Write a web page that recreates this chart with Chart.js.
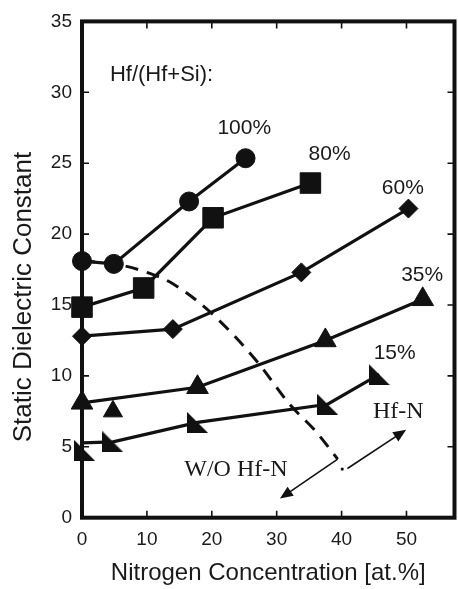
<!DOCTYPE html>
<html><head><meta charset="utf-8">
<script src="https://cdn.jsdelivr.net/npm/chart.js@4.4.0/dist/chart.umd.min.js"></script>
<style>
html,body{margin:0;padding:0;overflow:hidden;background:#fff;width:458px;height:589px}
canvas{display:block}
</style></head>
<body><canvas id="c" width="470" height="589"></canvas>
<script>
// ---- data ----
const xTicks=[0,10,20,30,40,50];
const yTicks=[0,5,10,15,20,25,30,35];
const xTitle="Nitrogen Concentration [at.%]";
const yTitle="Static Dielectric Constant";

const hf100X=[0,4.9,16.5,25.2];      const hf100Y=[18.1,17.9,22.3,25.35];
const hf80X=[0,9.5,20.2,35.2];       const hf80Y=[14.85,16.2,21.15,23.6];
const hf60X=[0,14.0,33.8,50.3];      const hf60Y=[12.8,13.3,17.3,21.8];
const hf35X=[0,17.8,37.5,52.5];      const hf35Y=[8.1,9.2,12.5,15.4];
const hf15X=[0,4.77,17.8,37.85,45.8];const hf15Y=[5.28,5.35,6.72,8.0,10.1];
const hf15StartX=[0.4];              const hf15StartY=[4.75];
const extraX=[4.77];                 const extraY=[7.5];
const woX=[0,5,10,14,20,27,32,36,39.4]; const woY=[18.1,17.9,17.3,16.5,14.4,11.0,8.0,6.1,4.13];

const noteTexts=["Hf/(Hf+Si):","100%","80%","60%","35%","15%","Hf-N","W/O Hf-N"];
const noteX=[4.3,25.0,38.15,49.44,52.42,48.18,48.74,23.72];
const noteY=[31.2,27.46,25.62,23.26,17.07,11.62,7.48,3.38];

const arrowFromX=[39.4,40.9]; const arrowFromY=[4.13,3.47];
const arrowToX=[30.5,49.95];  const arrowToY=[1.35,6.21];
const dotX=[40.1]; const dotY=[3.43];

const zip=(xs,ys)=>xs.map((v,i)=>({x:v,y:ys[i]}));
const INK='#111';

// right-triangle marker (◣) used for the 15% series
const wedge=document.createElement('canvas');
wedge.width=21;wedge.height=21;
(function(){const g=wedge.getContext('2d');g.fillStyle=INK;g.beginPath();g.moveTo(0,0);g.lineTo(0,21);g.lineTo(21,21);g.closePath();g.fill();})();

function series(xs,ys,style,r,extra){
  return Object.assign({data:zip(xs,ys),showLine:true,borderColor:INK,borderWidth:3.2,
    pointStyle:style,pointRadius:r,pointBackgroundColor:INK,pointBorderColor:INK,pointBorderWidth:1,clip:false},extra||{});
}

const datasets=[
  series(hf100X,hf100Y,'circle',9.5),
  series(hf80X,hf80Y,'rect',14.5),
  series(hf60X,hf60Y,'rectRot',9.5),
  series(hf35X,hf35Y,'triangle',12.5),
  series(hf15X,hf15Y,wedge,10,{pointRadius:[0,10,10,10,10]}),
  series(hf15StartX,hf15StartY,wedge,10,{showLine:false}),
  series(extraX,extraY,'triangle',11,{showLine:false}),
  {data:zip(woX,woY),showLine:true,borderColor:INK,borderWidth:3,borderDash:[13,9],pointRadius:0,
   cubicInterpolationMode:'monotone',clip:false}
];

const frame={id:'frame',beforeDatasetsDraw(chart){
  const {ctx,chartArea:a,scales:{x,y}}=chart;
  ctx.save();ctx.strokeStyle=INK;ctx.lineWidth=4;
  ctx.strokeRect(a.left,a.top,a.right-a.left,a.bottom-a.top);
  ctx.lineWidth=1.6;ctx.beginPath();
  for(const v of xTicks){const p=x.getPixelForValue(v);
    ctx.moveTo(p,a.bottom);ctx.lineTo(p,a.bottom-7);ctx.moveTo(p,a.top);ctx.lineTo(p,a.top+7);}
  for(const v of yTicks){const p=y.getPixelForValue(v);
    ctx.moveTo(a.left,p);ctx.lineTo(a.left+7,p);ctx.moveTo(a.right,p);ctx.lineTo(a.right-7,p);}
  ctx.stroke();
  // y title
  ctx.fillStyle='#1a1a1a';ctx.font='26px "Liberation Sans", Arial, sans-serif';
  ctx.textAlign='center';ctx.textBaseline='middle';
  ctx.translate(24,297);ctx.rotate(-Math.PI/2);ctx.fillText(yTitle,0,0);
  ctx.restore();
}};

function arrowHead(ctx,x0,y0,x1,y1,len,w){
  const ang=Math.atan2(y1-y0,x1-x0);
  ctx.beginPath();ctx.moveTo(x1,y1);
  ctx.lineTo(x1-len*Math.cos(ang)+w*Math.sin(ang),y1-len*Math.sin(ang)-w*Math.cos(ang));
  ctx.lineTo(x1-len*Math.cos(ang)-w*Math.sin(ang),y1-len*Math.sin(ang)+w*Math.cos(ang));
  ctx.closePath();ctx.fill();
}

const notes={id:'notes',afterDatasetsDraw(chart){
  const {ctx,scales:{x,y}}=chart;
  ctx.save();ctx.fillStyle='#1a1a1a';ctx.strokeStyle=INK;ctx.textBaseline='middle';
  noteTexts.forEach((t,i)=>{
    const serif=t.indexOf('Hf-N')>=0;
    ctx.font=serif?'24px "Liberation Serif", "Times New Roman", serif':(i===0?'22px "Liberation Sans", Arial, sans-serif':'21px "Liberation Sans", Arial, sans-serif');
    ctx.textAlign=i===0?'left':'center';
    ctx.fillText(t,x.getPixelForValue(noteX[i]),y.getPixelForValue(noteY[i]));
  });
  ctx.fillStyle=INK;ctx.lineWidth=1.6;
  for(let i=0;i<arrowFromX.length;i++){
    const x0=x.getPixelForValue(arrowFromX[i]),y0=y.getPixelForValue(arrowFromY[i]);
    const x1=x.getPixelForValue(arrowToX[i]),y1=y.getPixelForValue(arrowToY[i]);
    const ang=Math.atan2(y1-y0,x1-x0);
    ctx.beginPath();ctx.moveTo(x0,y0);ctx.lineTo(x1-8*Math.cos(ang),y1-8*Math.sin(ang));ctx.stroke();
    arrowHead(ctx,x0,y0,x1,y1,13,5.5);
  }
  for(let i=0;i<dotX.length;i++){ctx.beginPath();ctx.arc(x.getPixelForValue(dotX[i]),y.getPixelForValue(dotY[i]),1.6,0,Math.PI*2);ctx.fill();}
  ctx.restore();
}};

new Chart(document.getElementById('c'),{
  type:'scatter',
  data:{datasets},
  options:{
    responsive:false,animation:false,events:[],
    layout:{padding:{left:0,top:14,right:9,bottom:0}},
    plugins:{legend:{display:false},tooltip:{enabled:false}},
    scales:{
      x:{type:'linear',min:0,max:57.4,
        afterBuildTicks:s=>{s.ticks=xTicks.map(v=>({value:v}));},
        afterFit:s=>{s.height=71.3;},
        grid:{display:false,drawTicks:false},border:{display:false},
        ticks:{color:'#1a1a1a',font:{size:19,family:'"Liberation Sans", Arial, sans-serif'},padding:11,maxRotation:0,autoSkip:false},
        title:{display:true,text:xTitle,color:'#1a1a1a',font:{size:24,family:'"Liberation Sans", Arial, sans-serif'},padding:{top:0,bottom:1.2}}},
      y:{type:'linear',min:0,max:35,
        afterBuildTicks:s=>{s.ticks=yTicks.map(v=>({value:v}));},
        afterFit:s=>{s.width=82;},
        grid:{display:false,drawTicks:false},border:{display:false},
        ticks:{color:'#1a1a1a',font:{size:19,family:'"Liberation Sans", Arial, sans-serif'},padding:10,autoSkip:false}}
    }
  },
  plugins:[frame,notes]
});
</script></body></html>
